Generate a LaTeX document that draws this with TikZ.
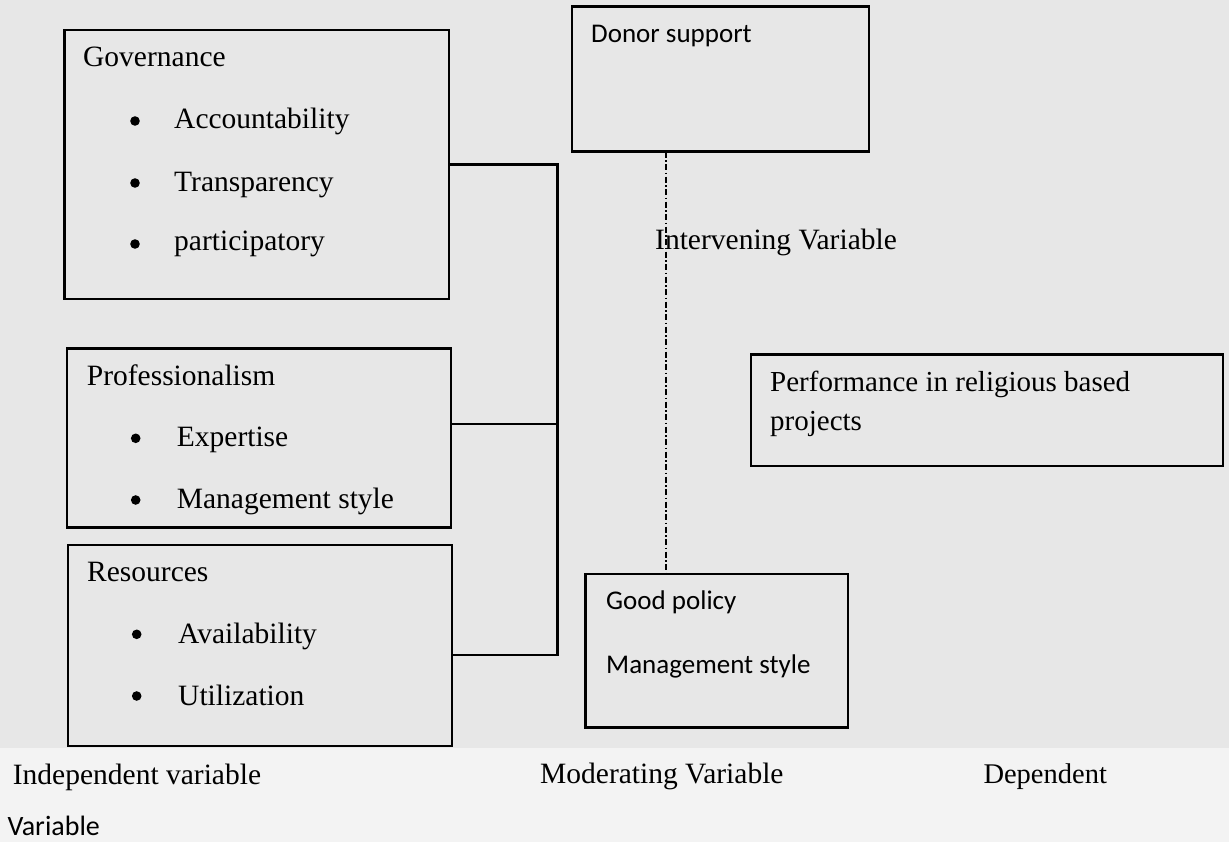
\documentclass[tikz,border=0pt]{standalone}
\usepackage{fontspec}
\setmainfont{Liberation Serif}
\newfontfamily\calib{Carlito}
\definecolor{paper}{HTML}{E7E7E7}
\definecolor{paperlow}{HTML}{F3F3F3}
\begin{document}
\begin{tikzpicture}[x=1pt,y=-1pt,
  box/.style={draw=black, line width=2.4pt, rectangle, inner sep=0pt, outer sep=0pt},
  serif/.style={font=\fontsize{29.5}{34}\selectfont, anchor=base west, inner sep=0pt},
  sans/.style={font=\calib\fontsize{27}{32}\selectfont, anchor=base west, inner sep=0pt},
  link/.style={draw=black, line width=2.1pt},
  inter/.style={draw=black, line width=2.2pt, dash pattern=on 6pt off 2.5pt on 1.5pt off 2.5pt},
  dot/.style={fill=black}]
% page
\useasboundingbox (0,0) rectangle (1229,842);
\fill[paper] (0,0) rectangle (1229,748);
\fill[paperlow] (0,748) rectangle (1229,842);

% independent variables
\node[box, minimum width=384.7pt, minimum height=269pt] (gov) at (256.65,164.5) {};
\node[box, minimum width=384.3pt, minimum height=179pt] (prof) at (258.85,437.8) {};
\node[box, minimum width=384pt, minimum height=201pt] (res) at (259.7,645.5) {};

\node[serif] (govt) at (83,67) {Governance};
\fill[dot] (135,121) circle (4.8);
\node[serif] (acc) at (174,129) {Accountability};
\fill[dot] (135,183) circle (4.8);
\node[serif] (tra) at (174,192) {Transparency};
\fill[dot] (135,244) circle (4.8);
\node[serif] (par) at (174,251) {participatory};

\node[serif] (proft) at (86.7,385) {Professionalism};
\fill[dot] (135.7,438.3) circle (4.8);
\node[serif] (exp) at (176.7,446.7) {Expertise};
\fill[dot] (135.7,500) circle (4.8);
\node[serif] (mgs) at (176.7,508) {Management style};

\node[serif] (rest) at (87,581.7) {Resources};
\fill[dot] (136.7,634.3) circle (4.8);
\node[serif] (ava) at (178,643.3) {Availability};
\fill[dot] (136.7,696) circle (4.8);
\node[serif] (uti) at (178,705) {Utilization};

% intervening and moderating variables
\node[box, minimum width=297.3pt, minimum height=145pt] (donor) at (720.35,79.2) {};
\node[sans] (donort) at (591,43) {Donor support};
\node[box, minimum width=262.4pt, minimum height=153.3pt] (policy) at (716.5,650.65) {};
\node[sans] (polt) at (606,609.3) {Good policy};
\node[sans] (polm) at (606,673.3) {Management style};
\node[serif] (intv) at (655,250) {Intervening Variable};

% dependent variable
\node[box, minimum width=472pt, minimum height=111.7pt] (perf) at (986.7,410.15) {};
\node[serif, font=\fontsize{29}{34}\selectfont] (perf1) at (770,391.7) {Performance in religious based};
\node[serif, font=\fontsize{29}{34}\selectfont] (perf2) at (770,430) {projects};

% bottom captions
\node[serif] (capi) at (12.7,784.3) {Independent variable};
\node[sans, font=\calib\fontsize{28}{32}\selectfont] (capv) at (7.3,835.7) {Variable};
\node[serif] (capm) at (540,783.3) {Moderating Variable};
\node[serif, font=\fontsize{28.5}{32}\selectfont] (capd) at (983.3,783.3) {Dependent};

% connectors
\coordinate (jg) at (557.5,164.5);
\coordinate (jp) at (557.5,423.8);
\coordinate (jr) at (557.5,654.8);
\coordinate (dl) at (666.3,0);
\draw[link] (gov.east) -- (jg) -- (jr) -- (res.east |- jr);
\draw[link] (prof.east |- jp) -- (jp);
\draw[inter] (donor.south -| dl) -- (policy.north -| dl);
\end{tikzpicture}
\end{document}
